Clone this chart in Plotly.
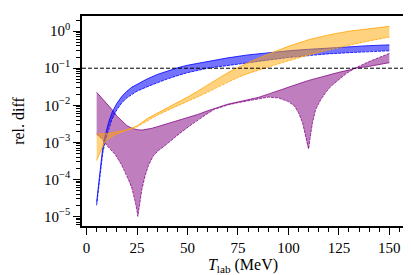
import plotly.graph_objects as go

# ---------------- data (log10 of relative difference) ----------------
T_blue = [5, 6, 7, 8, 9.3, 11, 12.6, 15, 17.5, 20, 22.5, 25, 30, 35, 40, 45, 50,
          60, 70, 80, 90, 100, 110, 120, 130, 140, 150]
blue_hi = [-4.62, -4.1, -3.55, -3.15, -2.8, -2.45, -2.2, -1.95, -1.76, -1.62, -1.51, -1.43,
           -1.29, -1.17, -1.07, -0.99, -0.92, -0.81, -0.72, -0.64, -0.58, -0.53, -0.49,
           -0.45, -0.42, -0.39, -0.37]
blue_lo = [-4.70, -4.2, -3.7, -3.3, -2.95, -2.62, -2.38, -2.12, -1.93, -1.8, -1.7, -1.62,
           -1.5, -1.39, -1.29, -1.2, -1.12, -1.0, -0.92, -0.86, -0.78, -0.71, -0.65,
           -0.61, -0.58, -0.55, -0.53]

T_orange = [5, 6, 7, 8.5, 10, 12.5, 15, 17.5, 20, 22.5, 25, 30, 35, 40, 45, 50, 55, 60,
            65, 70, 75, 80, 90, 100, 110, 120, 130, 140, 150]
orange_a = [-2.78, -2.78, -2.77, -2.77, -2.76, -2.74, -2.72, -2.70, -2.67, -2.64, -2.58,
            -2.42, -2.27, -2.14, -2.02, -1.9, -1.78, -1.65, -1.51, -1.37, -1.25, -1.14,
            -0.96, -0.8, -0.64, -0.5, -0.38, -0.26, -0.16]
orange_b = [-3.49, -3.37, -3.24, -3.05, -2.93, -2.84, -2.77, -2.72, -2.67, -2.63, -2.56,
            -2.36, -2.22, -2.08, -1.94, -1.78, -1.62, -1.45, -1.28, -1.12, -0.98, -0.85,
            -0.62, -0.41, -0.23, -0.1, 0.0, 0.07, 0.13]

T_purple_u = [5, 7.5, 10, 12.5, 15, 17.5, 20, 22.5, 25, 27.5, 30, 32.5, 35, 37.5, 40, 45,
              50, 55, 60, 65, 70, 75, 80, 85, 90, 95, 100, 105, 110, 115, 120, 125, 130,
              133, 140, 150]
purple_u = [-1.65, -1.8, -1.93, -2.11, -2.29, -2.42, -2.55, -2.62, -2.66, -2.67, -2.65,
            -2.62, -2.58, -2.54, -2.5, -2.43, -2.34, -2.25, -2.15, -2.05, -1.97, -1.91,
            -1.85, -1.79, -1.70, -1.60, -1.51, -1.42, -1.33, -1.25, -1.18, -1.11, -1.05,
            -1.0, -0.95, -0.85]
T_purple_l = [5, 7.5, 10, 12.5, 14.2, 17.5, 20, 21.5, 22.5, 23.5, 24.3, 25, 25.4, 25.8,
              26.5, 27.4, 29, 30.7, 33, 35.6, 38.6, 42.7, 46.8, 51, 55, 59.2, 63.3, 70,
              75, 80, 85, 90, 95, 100, 103, 105, 107, 108.5, 109.5, 110, 110.7, 111.9,
              113.5, 116, 118.5, 121, 125.8, 129, 133, 140, 150]
purple_l = [-2.78, -2.9, -3.08, -3.22, -3.33, -3.62, -3.9, -4.1, -4.25, -4.45, -4.65,
            -4.85, -5.0, -4.85, -4.62, -4.27, -3.9, -3.62, -3.37, -3.22, -3.1, -2.91,
            -2.73, -2.56, -2.4, -2.25, -2.11, -1.99, -1.93, -1.88, -1.82, -1.78, -1.8,
            -1.9, -2.02, -2.2, -2.47, -2.82, -3.1, -3.18, -2.9, -2.47, -2.11, -1.85,
            -1.65, -1.49, -1.27, -1.13, -1.0, -0.82, -0.6]

threshold = 0.1
x_ticks = [0, 25, 50, 75, 100, 125, 150]
y_ticks = [1e-5, 1e-4, 1e-3, 1e-2, 1e-1, 1e0]
y_ticktext = ["10<sup>−5</sup>", "10<sup>−4</sup>", "10<sup>−3</sup>",
              "10<sup>−2</sup>", "10<sup>−1</sup>", "10<sup>0</sup>"]
y_minor = [m * 10.0 ** e for e in range(-6, 1) for m in range(2, 10)]

FONT = "Liberation Serif"

fig = go.Figure()


def band(xa, ya, xb, yb, fill, line):
    xs = list(xa) + list(xb)[::-1]
    ys = [10 ** v for v in ya] + [10 ** v for v in yb][::-1]
    fig.add_trace(go.Scatter(x=xs, y=ys, mode="lines", fill="toself", fillcolor=fill,
                             line=dict(width=0), hoverinfo="skip", showlegend=False))
    fig.add_trace(go.Scatter(x=xa, y=[10 ** v for v in ya], mode="lines",
                             line=dict(color=line, width=1), showlegend=False))
    fig.add_trace(go.Scatter(x=xb, y=[10 ** v for v in yb], mode="lines",
                             line=dict(color=line, width=1, dash="3px,1px"), showlegend=False))


band(T_purple_u, purple_u, T_purple_l, purple_l, "rgba(128,0,128,0.5)", "rgba(128,0,128,0.75)")
band(T_blue, blue_hi, T_blue, blue_lo, "rgba(0,0,255,0.55)", "rgba(0,0,255,0.8)")
band(T_orange, orange_b, T_orange, orange_a, "rgba(255,165,0,0.5)", "rgba(255,165,0,0.8)")

fig.add_shape(type="line", xref="paper", x0=0, x1=1, yref="y", y0=threshold, y1=threshold,
              line=dict(color="black", width=1, dash="4px,2px"))

fig.update_layout(
    width=411, height=275,
    margin=dict(l=74, r=15, t=6, b=57),
    paper_bgcolor="white", plot_bgcolor="white",
    font=dict(family=FONT, size=15, color="black"),
    showlegend=False,
)
fig.update_xaxes(
    range=[-2.25, 157.25], tickmode="array", tickvals=x_ticks,
    ticks="outside", ticklen=7, tickwidth=1.2, tickcolor="black",
    showline=True, linecolor="black", linewidth=1.5, mirror=True,
    showgrid=False, zeroline=False, tickfont=dict(size=15, color="black"),
    minor=dict(dtick=5, tick0=0, ticks="outside", ticklen=4, tickwidth=1, tickcolor="black", showgrid=False),
    title=dict(text="<i>T</i><sub>lab</sub> (MeV)", font=dict(size=16), standoff=0),
)
fig.update_yaxes(
    type="log", range=[-5.26, 0.41], tickmode="array", tickvals=y_ticks, ticktext=y_ticktext,
    ticks="outside", ticklen=7, tickwidth=1.2, tickcolor="black",
    showline=True, linecolor="black", linewidth=1.5, mirror="ticks",
    showgrid=False, zeroline=False, tickfont=dict(size=15, color="black"),
    minor=dict(tickmode="array", tickvals=y_minor, ticks="outside", ticklen=4, tickwidth=1,
               tickcolor="black", showgrid=False),
    title=dict(text="rel. diff", font=dict(size=16), standoff=15),
)

fig.write_html("out.html")
